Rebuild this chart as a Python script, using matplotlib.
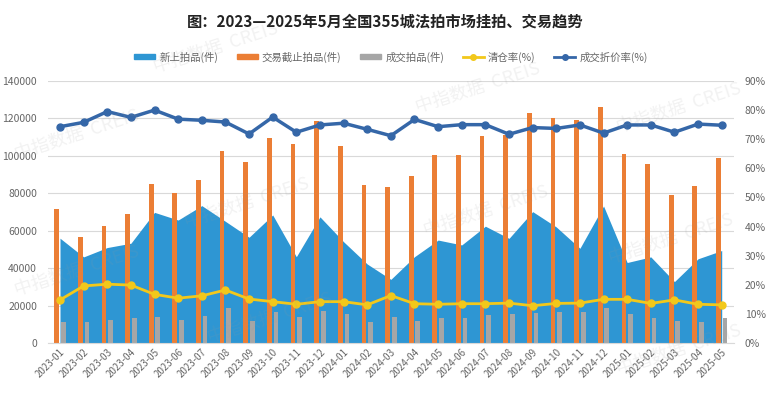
import matplotlib
matplotlib.use("Agg")
import matplotlib.pyplot as plt
import numpy as np
from matplotlib.patches import Patch
from matplotlib.lines import Line2D

plt.rcParams["font.family"] = ["Noto Sans CJK SC", "DejaVu Sans"]

# Data
months = [
    "2023-01", "2023-02", "2023-03", "2023-04", "2023-05", "2023-06",
    "2023-07", "2023-08", "2023-09", "2023-10", "2023-11", "2023-12",
    "2024-01", "2024-02", "2024-03", "2024-04", "2024-05", "2024-06",
    "2024-07", "2024-08", "2024-09", "2024-10", "2024-11", "2024-12",
    "2025-01", "2025-02", "2025-03", "2025-04", "2025-05",
]
new_listed = [
    56000, 46000, 51000, 53300, 69800, 65700, 73400, 65000, 56500, 68400,
    46100, 67400, 54100, 42200, 34000, 46100, 55000, 52400, 62400, 55900,
    70200, 62000, 50600, 73200, 43000, 46000, 32800, 45000, 49400,
]
deadline_lots = [
    71600, 56500, 62500, 68900, 84800, 80300, 87100, 102600, 96600, 109400,
    106200, 118800, 105400, 84600, 83300, 89400, 100300, 100600, 110600, 111000,
    123100, 120100, 119000, 126000, 100800, 95500, 79100, 83900, 98700,
]
sold_lots = [
    11000, 11000, 12300, 13500, 13700, 12300, 14600, 18500, 11900, 16400,
    14100, 17100, 15300, 11000, 13700, 11900, 13500, 13500, 15000, 15700,
    16200, 16700, 16700, 18900, 15300, 13200, 11900, 11000, 13200,
]
clearance_rate = [
    14.8, 19.6, 20.2, 19.9, 16.7, 15.4, 16.2, 18.2, 15.1, 14.2,
    13.3, 14.2, 14.2, 13.1, 16.3, 13.5, 13.3, 13.5, 13.5, 13.7,
    12.8, 13.6, 13.7, 15.0, 15.0, 13.6, 14.8, 13.3, 13.1,
]
discount_rate = [
    74.3, 75.8, 79.5, 77.5, 80.0, 76.9, 76.5, 75.9, 71.8, 77.6,
    72.4, 74.9, 75.5, 73.4, 71.2, 76.8, 74.3, 75.0, 75.0, 71.7,
    74.0, 73.7, 74.9, 72.1, 74.9, 74.9, 72.4, 75.2, 74.8,
]

c_blue_area = "#2E96D3"
c_orange = "#EB7E35"
c_gray = "#A6A6A6"
c_yellow = "#F2C81B"
c_line = "#3567A8"
c_text = "#666666"

fig = plt.figure(figsize=(7.71, 3.98), dpi=100)
ax = fig.add_axes([0.0625, 0.1382, 0.8889, 0.6583])
ax2 = ax.twinx()

x = np.arange(len(months))

ax.fill_between(x, new_listed, 0, color=c_blue_area, linewidth=0, zorder=1)
ax.bar(x - 0.14, deadline_lots, width=0.2, color=c_orange, zorder=2)
ax.bar(x + 0.14, sold_lots, width=0.2, color=c_gray, zorder=2)

ax.set_xlim(-0.5, len(months) - 0.5)
ax.set_ylim(0, 140000)
ax.set_yticks(np.arange(0, 140001, 20000))
ax.yaxis.grid(True, color="#D9D9D9", linewidth=0.8, zorder=0)
ax.set_axisbelow(True)
ax.tick_params(axis="y", length=0, labelsize=7.5, colors=c_text, pad=8)
ax.set_xticks(x)
ax.set_xticklabels(months, rotation=45, ha="right", rotation_mode="anchor",
                   fontsize=7, color=c_text)
ax.tick_params(axis="x", length=0, pad=3)
for s in ["top", "left", "right"]:
    ax.spines[s].set_visible(False)
ax.spines["bottom"].set_color("#D9D9D9")

ax2.plot(x, clearance_rate, color=c_yellow, linewidth=2, marker="o",
         markersize=5, zorder=3)
ax2.plot(x, discount_rate, color=c_line, linewidth=2.5, marker="o",
         markersize=5, zorder=4)
ax2.set_ylim(0, 90)
ax2.set_yticks(np.arange(0, 91, 10))
ax2.set_yticklabels([f"{v}%" for v in range(0, 91, 10)])
ax2.tick_params(axis="y", length=0, labelsize=7.5, colors=c_text, pad=8)
for s in ["top", "left", "right", "bottom"]:
    ax2.spines[s].set_visible(False)

fig.text(0.5, 0.945, "图：2023—2025年5月全国355城法拍市场挂拍、交易趋势",
         ha="center", va="center", fontsize=11, fontweight="bold", color="#222222")

handles = [
    Patch(color=c_blue_area),
    Patch(color=c_orange),
    Patch(color=c_gray),
    Line2D([], [], color=c_yellow, linewidth=2, marker="o", markersize=4),
    Line2D([], [], color=c_line, linewidth=2, marker="o", markersize=4),
]
labels = ["新上拍品(件)", "交易截止拍品(件)", "成交拍品(件)", "清仓率(%)", "成交折价率(%)"]
fig.legend(handles, labels, loc="center", bbox_to_anchor=(0.507, 0.857), ncol=5,
           frameon=False, fontsize=7.5, labelcolor=c_text, handlelength=2.0,
           handleheight=0.45, columnspacing=1.8, handletextpad=0.4)

# faint watermarks
marks = [(0.10, 0.66), (0.32, 0.49), (0.62, 0.78), (0.88, 0.73), (0.10, 0.32),
         (0.35, 0.20), (0.63, 0.47), (0.87, 0.40), (0.88, 0.12), (0.28, 0.88)]
for mx, my in marks:
    fig.text(mx, my, "中指数据  CREIS", ha="center", va="center", fontsize=13,
             color="#9A9A9A", alpha=0.13, rotation=18, zorder=10)

fig.savefig("out.png", dpi=100)
